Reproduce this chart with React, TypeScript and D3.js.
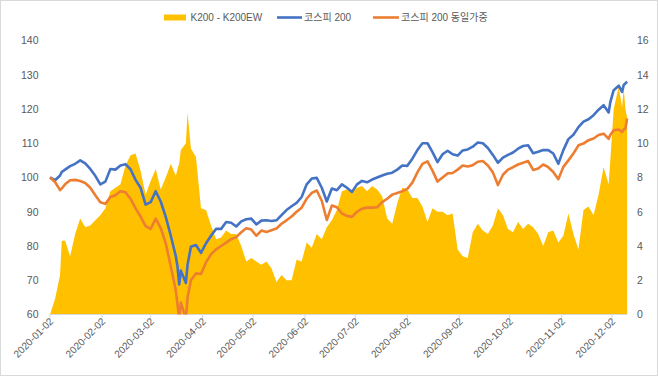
import React from "react";
import * as d3 from "d3";

const dates = [
  "2020-01-02","2020-01-05","2020-01-08","2020-01-09","2020-01-11","2020-01-14","2020-01-17","2020-01-20","2020-01-23","2020-01-26","2020-01-29",
  "2020-02-01","2020-02-04","2020-02-07","2020-02-10","2020-02-13","2020-02-16","2020-02-19","2020-02-22","2020-02-25","2020-02-28",
  "2020-03-02","2020-03-05","2020-03-08","2020-03-11","2020-03-14","2020-03-17","2020-03-18","2020-03-19","2020-03-20","2020-03-23","2020-03-24","2020-03-26","2020-03-29",
  "2020-04-01","2020-04-04","2020-04-07","2020-04-10","2020-04-13","2020-04-16","2020-04-19","2020-04-22","2020-04-25","2020-04-28",
  "2020-05-01","2020-05-04","2020-05-07","2020-05-10","2020-05-13","2020-05-16","2020-05-19","2020-05-22","2020-05-25","2020-05-28","2020-05-31",
  "2020-06-03","2020-06-06","2020-06-09","2020-06-12","2020-06-15","2020-06-18","2020-06-21","2020-06-24","2020-06-27","2020-06-30",
  "2020-07-03","2020-07-06","2020-07-09","2020-07-12","2020-07-15","2020-07-18","2020-07-21","2020-07-24","2020-07-27","2020-07-30",
  "2020-08-02","2020-08-05","2020-08-08","2020-08-11","2020-08-14","2020-08-17","2020-08-20","2020-08-23","2020-08-26","2020-08-29",
  "2020-09-01","2020-09-04","2020-09-07","2020-09-10","2020-09-13","2020-09-16","2020-09-19","2020-09-22","2020-09-25","2020-09-28",
  "2020-10-01","2020-10-04","2020-10-07","2020-10-10","2020-10-13","2020-10-16","2020-10-19","2020-10-22","2020-10-25","2020-10-28","2020-10-31",
  "2020-11-03","2020-11-06","2020-11-09","2020-11-12","2020-11-15","2020-11-18","2020-11-21","2020-11-24","2020-11-27","2020-11-30",
  "2020-12-01","2020-12-03","2020-12-06","2020-12-08","2020-12-09","2020-12-10","2020-12-11",
];

// 코스피 200
const k200 = [
  100.0, 99.2, 100.6, 101.6, 102.3, 103.3, 104.0, 105.0, 104.1, 102.5, 100.5,
  98.0, 98.8, 102.5, 102.3, 103.5, 103.9, 102.4, 99.3, 97.0, 92.1,
  92.8, 96.0, 93.0, 88.5, 83.0, 77.0, 74.0, 68.8, 72.8, 69.2, 74.5, 79.8, 80.3,
  78.0, 80.8, 83.0, 85.0, 85.0, 87.0, 86.8, 85.7, 87.2, 87.8,
  88.0, 86.3, 87.4, 87.5, 87.3, 87.5, 89.0, 90.5, 91.6, 92.6, 94.3,
  98.0, 99.7, 99.9, 97.0, 93.0, 96.8, 96.3, 98.0, 97.0, 95.8,
  98.0, 99.0, 98.6, 99.4, 100.0, 100.6, 101.1, 101.4, 102.3, 103.5,
  103.4, 105.5, 108.0, 110.0, 110.0, 107.4, 104.5, 106.8, 107.8, 106.8,
  106.4, 107.9, 108.2, 109.0, 110.2, 110.0, 108.6, 106.6, 104.3, 105.8,
  106.6, 107.3, 108.4, 109.2, 109.4, 107.1, 107.5, 108.0, 108.0, 107.0, 104.0,
  108.0, 111.2, 112.5, 114.7, 116.3, 117.0, 118.2, 119.8, 121.1, 119.0,
  122.0, 125.5, 126.8, 125.0, 127.0, 127.5, 128.0,
];

// 코스피 200 동일가중
const k200ew = [
  100.0, 98.7, 96.3, 96.8, 98.0, 99.2, 99.3, 99.0, 98.4, 97.0, 94.8,
  92.8, 92.3, 94.3, 94.8, 96.0, 95.7, 93.8, 91.0, 88.6, 85.8,
  85.0, 88.0, 85.2, 80.8, 74.0, 67.0, 63.0, 58.8, 63.5, 58.8, 65.0, 70.0, 72.0,
  71.8, 75.2, 77.6, 79.0, 80.0, 81.0, 82.0, 82.6, 84.0, 85.2,
  84.8, 83.0, 84.5, 84.1, 84.6, 85.1, 86.5, 87.5, 88.6, 90.0, 91.2,
  93.8, 95.5, 96.2, 93.2, 87.6, 91.8, 91.3, 89.5, 88.8, 88.5,
  90.0, 90.9, 91.2, 91.2, 91.3, 92.8, 93.8, 95.0, 95.5, 96.0,
  96.7, 98.5, 101.5, 104.0, 104.7, 102.0, 98.8, 100.0, 101.2, 101.3,
  102.3, 103.5, 103.2, 103.6, 104.6, 104.8, 103.5, 101.5, 97.8, 100.8,
  102.3, 103.0, 103.8, 104.3, 104.8, 102.2, 102.6, 103.8, 103.0, 101.6, 99.5,
  103.1, 105.0, 107.0, 109.4, 109.9, 110.9, 111.4, 112.4, 112.8, 111.3,
  112.5, 113.8, 114.0, 113.3, 114.0, 114.3, 117.2,
];

// K200 - K200EW (right axis)
const spread = [
  0.0, 0.9, 2.3, 4.3, 4.3, 3.4, 4.7, 5.6, 5.1, 5.2, 5.5,
  5.8, 6.2, 7.2, 7.4, 7.6, 8.7, 9.3, 9.4, 8.4, 7.0,
  7.8, 8.5, 7.3, 8.0, 8.8, 8.1, 8.5, 8.8, 9.6, 10.0, 11.8, 9.7, 9.2,
  6.2, 6.1, 5.2, 4.4, 4.5, 4.9, 4.7, 4.7, 4.0, 3.1,
  3.3, 3.1, 2.9, 3.1, 2.7, 1.9, 2.3, 2.0, 2.0, 3.2, 3.1,
  4.2, 3.9, 4.7, 4.4, 5.1, 5.5, 6.1, 7.2, 7.3, 7.2,
  7.4, 7.5, 7.2, 7.5, 7.3, 6.9, 5.6, 5.3, 6.5, 7.4,
  7.3, 6.8, 6.8, 6.3, 5.4, 6.2, 6.0, 6.0, 5.8, 5.9,
  3.8, 3.4, 3.3, 4.8, 5.3, 4.9, 4.7, 5.2, 6.2, 5.8,
  5.0, 4.8, 5.4, 5.0, 5.3, 5.1, 4.7, 4.0, 4.8, 4.9, 4.2,
  4.6, 5.9, 4.7, 3.8, 6.1, 6.3, 5.8, 7.0, 8.6, 7.6,
  9.0, 12.0, 13.3, 12.1, 13.2, 12.0, 11.5,
];

const xTickLabels = [
  "2020-01-02","2020-02-02","2020-03-02","2020-04-02","2020-05-02","2020-06-02",
  "2020-07-02","2020-08-02","2020-09-02","2020-10-02","2020-11-02","2020-12-02",
];
const leftTicks = [60, 70, 80, 90, 100, 110, 120, 130, 140];
const rightTicks = [0, 2, 4, 6, 8, 10, 12, 14, 16];

const YELLOW = "#FFC000";
const BLUE = "#4472C4";
const ORANGE = "#ED7D31";
const TXT = "#595959";
const FONT = "'Liberation Sans', Arial, 'Noto Sans CJK KR', sans-serif";

export default function App() {
  const W = 658, H = 376;
  const parse = d3.timeParse("%Y-%m-%d");
  const dd = dates.map((s) => parse(s) as Date);
  const x = d3.scaleTime()
    .domain([parse("2020-01-02") as Date, parse("2020-12-11") as Date])
    .range([50, 627.1]);
  const yL = d3.scaleLinear().domain([60, 140]).range([314.5, 40.5]);
  const yR = d3.scaleLinear().domain([0, 16]).range([314.5, 40.5]);

  const area = d3.area<number>()
    .x((_, i) => x(dd[i]))
    .y0(yR(0))
    .y1((d) => yR(d));
  const line = d3.line<number>()
    .x((_, i) => x(dd[i]))
    .y((d) => yL(d));

  const xTicks = xTickLabels.map((s) => ({ s, v: x(parse(s) as Date) }));

  return (
    <div style={{ position: "absolute", left: 0, top: 0 }}>
      <svg width={W} height={H} style={{ display: "block", background: "#fff" }} fontFamily={FONT}>
        <rect x={0.5} y={0.5} width={W - 1} height={H - 1} fill="#fff" stroke="#d9d9d9" />
        <defs>
          <clipPath id="plotclip">
            <rect x={40} y={30} width={600} height={314.5 - 30} />
          </clipPath>
        </defs>

        {/* area on secondary axis */}
        <path d={area(spread) || ""} fill={YELLOW} />

        {/* x axis line and ticks */}
        <line x1={50} x2={627.5} y1={314.5} y2={314.5} stroke="#d9d9d9" strokeWidth={1} />
        {xTicks.map((t) => (
          <line key={"t" + t.s} x1={t.v} x2={t.v} y1={314.5} y2={319} stroke="#d9d9d9" />
        ))}

        <g clipPath="url(#plotclip)">
          <path d={line(k200) || ""} fill="none" stroke={BLUE} strokeWidth={2.6} strokeLinejoin="round" />
          <path d={line(k200ew) || ""} fill="none" stroke={ORANGE} strokeWidth={2.6} strokeLinejoin="round" />
        </g>

        {/* left axis labels */}
        {leftTicks.map((v) => (
          <text key={"l" + v} x={38.5} y={yL(v) + 3.8} textAnchor="end" fontSize={10.5} fill={TXT}>
            {v}
          </text>
        ))}
        {/* right axis labels */}
        {rightTicks.map((v) => (
          <text key={"r" + v} x={637} y={yR(v) + 3.8} textAnchor="start" fontSize={10.5} fill={TXT}>
            {v}
          </text>
        ))}
        {/* x labels */}
        {xTicks.map((t) => (
          <text
            key={"x" + t.s}
            transform={`translate(${t.v + 4},${322}) rotate(-45)`}
            textAnchor="end"
            fontSize={10}
            fill={TXT}
          >
            {t.s}
          </text>
        ))}

        {/* legend */}
        <rect x={164} y={14.5} width={22} height={6} fill={YELLOW} />
        <text x={190.5} y={21} fontSize={10} fill={TXT}>K200 - K200EW</text>
        <line x1={277} x2={302} y1={17.5} y2={17.5} stroke={BLUE} strokeWidth={2.6} />
        <text x={304} y={21} fontSize={10} fill={TXT}>코스피 200</text>
        <line x1={373} x2={399} y1={17.5} y2={17.5} stroke={ORANGE} strokeWidth={2.6} />
        <text x={401} y={21} fontSize={10} fill={TXT}>코스피 200 동일가중</text>
      </svg>
    </div>
  );
}
